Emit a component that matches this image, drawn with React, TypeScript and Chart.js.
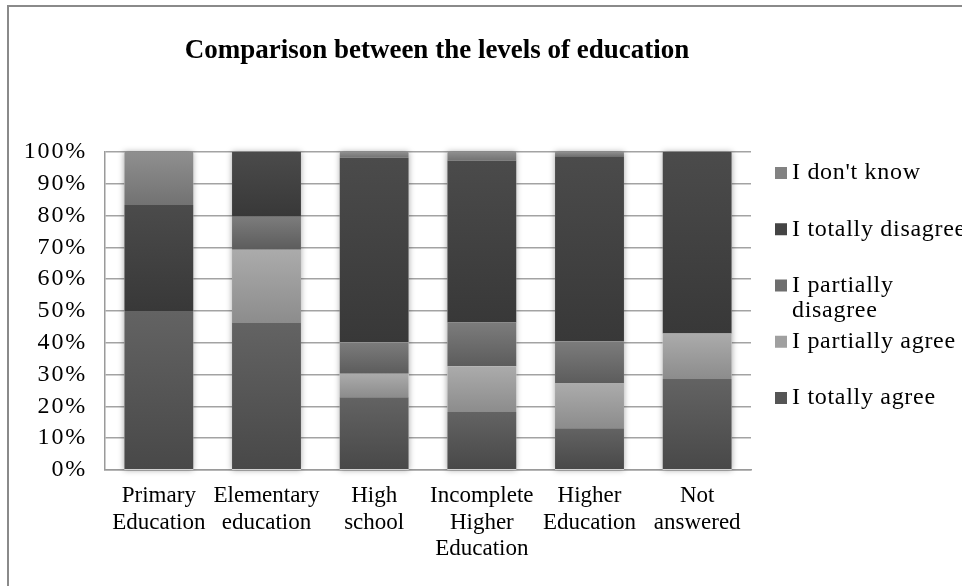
import React, { useEffect, useRef } from "react";
import { Chart, registerables } from "chart.js";

Chart.register(...registerables);

// ---------------- data ----------------
const chartTitle = "Comparison between the levels of education";
const categories = [
  ["Primary", "Education"],
  ["Elementary", "education"],
  ["High", "school"],
  ["Incomplete", "Higher", "Education"],
  ["Higher", "Education"],
  ["Not", "answered"],
];
const seriesNames = [
  "I totally agree",
  "I partially agree",
  "I partially disagree",
  "I totally disagree",
  "I don't know",
];
const legendLines = [
  ["I totally agree"],
  ["I partially agree"],
  ["I partially", "disagree"],
  ["I totally disagree"],
  ["I don't know"],
];
const totallyAgree = [50, 46.2, 22.9, 18.2, 13.1, 28.6];
const partiallyAgree = [0, 23.1, 7.4, 14.4, 14.1, 14.3];
const partiallyDisagree = [0, 10.3, 9.9, 13.8, 13.3, 0];
const totallyDisagree = [33.3, 20.4, 58.0, 50.9, 58.2, 57.1];
const dontKnow = [16.7, 0, 1.8, 2.7, 1.3, 0];
const yTickValues = [0, 10, 20, 30, 40, 50, 60, 70, 80, 90, 100];
const yTickSuffix = "%";

const seriesValues = [totallyAgree, partiallyAgree, partiallyDisagree, totallyDisagree, dontKnow];

// ---------------- styles ----------------
const gradients: [string, string][] = [
  ["#636363", "#484848"],
  ["#ababab", "#8c8c8c"],
  ["#7c7c7c", "#5c5c5c"],
  ["#4b4b4b", "#383838"],
  ["#8f8f8f", "#727272"],
];
const swatchColors = ["#555555", "#a0a0a0", "#6e6e6e", "#444444", "#828282"];
const FONT = '"Liberation Serif", "Times New Roman", serif';

const W = 962;
const H = 586;
const PLOT = { left: 105, right: 751, top: 152, bottom: 470 };

export default function App() {
  const ref = useRef<HTMLCanvasElement | null>(null);

  useEffect(() => {
    const canvas = ref.current;
    if (!canvas) return;

    const datasets = seriesNames.map((name, si) => ({
      label: name,
      data: seriesValues[si],
      borderWidth: 0,
      backgroundColor: (ctx: any) => {
        const chart = ctx.chart;
        const y = chart.scales && chart.scales.y;
        if (ctx.type !== "data" || !y) return gradients[si][1];
        const i = ctx.dataIndex;
        let base = 0;
        for (let k = 0; k < si; k++) base += seriesValues[k][i];
        const top = base + seriesValues[si][i];
        const yTop = y.getPixelForValue(top);
        const yBot = y.getPixelForValue(base);
        if (!isFinite(yTop) || !isFinite(yBot) || yTop === yBot) return gradients[si][1];
        const g = chart.ctx.createLinearGradient(0, yTop, 0, yBot);
        g.addColorStop(0, gradients[si][0]);
        g.addColorStop(1, gradients[si][1]);
        return g;
      },
      barPercentage: 0.64,
      categoryPercentage: 1,
    }));

    const shadowPlugin = {
      id: "stackShadow",
      beforeDatasetsDraw(chart: any) {
        const c = chart.ctx;
        const xs = chart.scales.x;
        const ys = chart.scales.y;
        const meta = chart.getDatasetMeta(0);
        c.save();
        c.shadowColor = "rgba(0,0,0,0.35)";
        c.shadowBlur = 6;
        c.fillStyle = "#ffffff";
        categories.forEach((_, i) => {
          let total = 0;
          seriesValues.forEach((s) => (total += s[i]));
          const el = meta.data[i];
          const w = el ? el.width : 68;
          const x = xs.getPixelForValue(i);
          const yt = ys.getPixelForValue(total);
          const yb = ys.getPixelForValue(0);
          c.fillRect(x - w / 2, yt, w, yb - yt);
        });
        c.restore();
      },
    };

    const decorPlugin = {
      id: "decor",
      afterDraw(chart: any) {
        const c = chart.ctx;
        c.save();
        // title
        c.fillStyle = "#000";
        c.font = `bold 27px ${FONT}`;
        c.textAlign = "center";
        c.textBaseline = "middle";
        c.fillText(chartTitle, 437, 51);
        // legend (reverse order, top = last series)
        c.font = `24px ${FONT}`;
        (c as any).letterSpacing = "0.7px";
        c.textAlign = "left";
        const order = seriesNames.map((_, i) => i).reverse();
        order.forEach((si, row) => {
          const y0 = 173 + row * 56.25;
          c.fillStyle = swatchColors[si];
          c.fillRect(775, y0 - 6, 12, 12);
          c.fillStyle = "#000";
          legendLines[si].forEach((line, j) => {
            c.fillText(line, 792, y0 + j * 25);
          });
        });
        (c as any).letterSpacing = "0px";
        c.restore();
      },
    };

    const withSpacing = (s: any, spacing: string) => {
      if (s._lsPatched) return;
      const orig = s.drawLabels.bind(s);
      s.drawLabels = (area: any) => {
        const c = s.ctx as any;
        const prev = c.letterSpacing;
        c.letterSpacing = spacing;
        orig(area);
        c.letterSpacing = prev || "0px";
      };
      s._lsPatched = true;
    };

    const chart = new Chart(canvas, {
      type: "bar",
      data: { labels: categories as any, datasets: datasets as any },
      options: {
        responsive: false,
        animation: false,
        devicePixelRatio: 1,
        layout: {
          padding: { left: 0, top: PLOT.top, right: W - PLOT.right, bottom: 0 },
        },
        plugins: {
          legend: { display: false },
          title: { display: false },
          tooltip: { enabled: false },
        },
        scales: {
          x: {
            stacked: true,
            grid: { display: false, drawTicks: false },
            border: { display: true, color: "#9a9a9a", width: 1.5 },
            ticks: {
              color: "#000",
              font: { family: FONT, size: 23, lineHeight: 1.15 },
              padding: 13,
              maxRotation: 0,
              autoSkip: false,
            },
            afterFit: (s: any) => {
              s.height = H - PLOT.bottom;
            },
          },
          y: {
            stacked: true,
            min: 0,
            max: 100,
            afterBuildTicks: (s: any) => {
              s.ticks = yTickValues.map((v) => ({ value: v }));
            },
            grid: { color: "#a3a3a3", lineWidth: 1.5, drawTicks: false },
            border: { display: true, color: "#9a9a9a", width: 1.5 },
            ticks: {
              color: "#000",
              font: { family: FONT, size: 24 },
              padding: 18,
              callback: (v: any) => `${v}${yTickSuffix}`,
            },
            afterFit: (s: any) => {
              s.width = PLOT.left;
              withSpacing(s, "1.8px");
            },
          },
        },
      },
      plugins: [shadowPlugin, decorPlugin],
    });

    return () => chart.destroy();
  }, []);

  return (
    <div
      style={{
        position: "fixed",
        left: 0,
        top: 0,
        width: W,
        height: H,
        background: "#fff",
        overflow: "hidden",
      }}
    >
      <canvas ref={ref} width={W} height={H} style={{ position: "absolute", left: 0, top: 0 }} />
      <div
        style={{
          position: "absolute",
          left: 7,
          top: 5,
          right: -10,
          bottom: -10,
          borderTop: "2px solid #8a8a8a",
          borderLeft: "2px solid #8a8a8a",
          pointerEvents: "none",
        }}
      />
    </div>
  );
}
